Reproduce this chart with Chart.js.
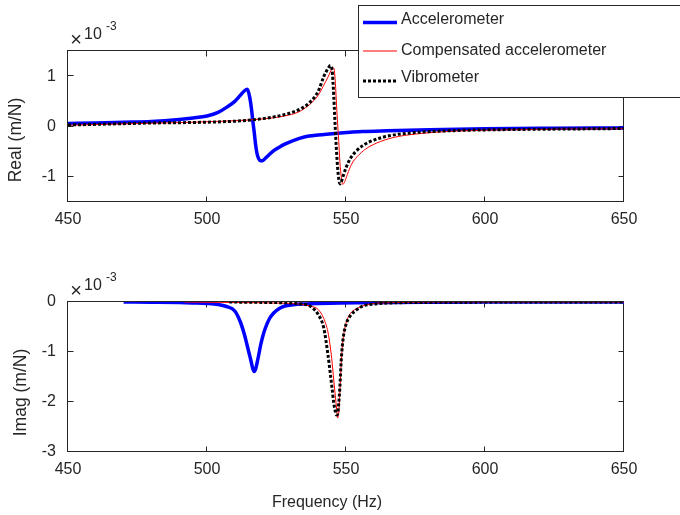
<!DOCTYPE html>
<html>
<head>
<meta charset="utf-8">
<script src="https://cdn.jsdelivr.net/npm/chart.js@4/dist/chart.umd.min.js"></script>
<style>
  html, body { margin: 0; padding: 0; background: #fff; }
  #wrap { position: relative; width: 680px; height: 515px; overflow: hidden; }
  .painel { position: absolute; left: 0; width: 680px; }
</style>
</head>
<body>
<div id="wrap">
  <div class="painel" style="top:0;height:250px"><canvas id="graficoReal" width="680" height="250"></canvas></div>
  <div class="painel" style="top:250px;height:265px"><canvas id="graficoImag" width="680" height="265"></canvas></div>
</div>
<script>
// valores em unidades de 1e-3 m/N (eixo mostra x10^-3)
const freqTicks = [450, 500, 550, 600, 650];
const realTicks = [-1, 0, 1];
const imagTicks = [-3, -2, -1, 0];

const accelFreq = [450, 460, 470, 480, 490, 495, 500, 504, 507, 510, 512, 513.5, 514.5, 515.3, 516, 516.5, 517, 517.5, 518, 518.6, 519.3, 520, 521, 522.5, 524, 526, 528, 531, 535, 540, 548, 556, 565, 580, 600, 625, 650];
const accelReal = [0.06, 0.07, 0.085, 0.10, 0.14, 0.17, 0.21, 0.28, 0.38, 0.50, 0.62, 0.71, 0.74, 0.60, 0.35, 0.10, -0.12, -0.37, -0.54, -0.64, -0.68, -0.68, -0.63, -0.55, -0.48, -0.41, -0.35, -0.28, -0.21, -0.17, -0.13, -0.10, -0.085, -0.065, -0.045, -0.035, -0.03];
const accelImag = [null, null, 0, -0.005, -0.012, -0.02, -0.03, -0.05, -0.09, -0.18, -0.40, -0.66, -0.88, -1.06, -1.22, -1.34, -1.39, -1.34, -1.22, -1.06, -0.86, -0.70, -0.52, -0.33, -0.22, -0.13, -0.08, -0.055, -0.04, -0.03, -0.02, -0.015, -0.01, -0.005, 0, 0, 0];

const compFreq = [450, 465, 480, 492, 500, 510, 520, 528, 533, 537, 540, 542, 543.5, 544.5, 545.2, 545.7, 546.2, 546.6, 547, 547.4, 547.8, 548.3, 548.8, 549.5, 550.5, 552, 554, 557, 561, 567, 575, 590, 610, 630, 650];
const compReal = [0.025, 0.045, 0.065, 0.08, 0.095, 0.115, 0.15, 0.21, 0.29, 0.44, 0.62, 0.82, 0.98, 1.10, 1.17, 1.15, 0.85, 0.42, 0.05, -0.30, -0.70, -1.00, -1.15, -1.10, -0.95, -0.75, -0.60, -0.45, -0.33, -0.22, -0.15, -0.09, -0.065, -0.05, -0.045];
const compImag = [null, null, null, 0, -0.005, -0.01, -0.015, -0.025, -0.04, -0.08, -0.15, -0.33, -0.60, -0.96, -1.32, -1.62, -1.90, -2.12, -2.32, -2.20, -1.80, -1.20, -0.82, -0.55, -0.34, -0.20, -0.13, -0.06, -0.025, -0.012, -0.005, 0, 0, 0, 0];

const vibFreq = [450, 465, 480, 495, 508, 515, 525, 530, 534, 537, 540, 542, 543.5, 544.4, 545, 545.6, 546.2, 546.6, 547, 547.4, 547.8, 548.3, 549, 550, 551.5, 553.5, 556, 560, 566, 575, 590, 610, 630, 650];
const vibReal = [0.03, 0.05, 0.07, 0.08, 0.10, 0.125, 0.20, 0.27, 0.36, 0.48, 0.70, 0.99, 1.15, 1.21, 1.12, 0.60, -0.10, -0.50, -0.83, -1.05, -1.14, -1.10, -0.98, -0.82, -0.64, -0.50, -0.38, -0.27, -0.18, -0.12, -0.08, -0.06, -0.05, -0.04];
const vibImag = [null, null, null, null, 0, -0.005, -0.012, -0.02, -0.04, -0.08, -0.25, -0.52, -1.05, -1.45, -1.73, -2.02, -2.20, -2.26, -2.24, -2.02, -1.70, -1.15, -0.72, -0.45, -0.28, -0.17, -0.08, -0.04, -0.02, -0.01, -0.005, 0, 0, 0];

const nomes = ["Accelerometer", "Compensated accelerometer", "Vibrometer"];

const COR_EIXO = "#262626";
const FONTE = "'Liberation Sans', Arial, Helvetica, sans-serif";
Chart.defaults.font.family = FONTE;
Chart.defaults.color = COR_EIXO;

function pares(freq, vals) {
  return freq.map((f, i) => ({ x: f, y: vals[i] }));
}

function series(accel, comp, vib) {
  return [
    { label: nomes[0], data: pares(accelFreq, accel), borderColor: "#0000ff", borderWidth: 3.5, order: 3 },
    { label: nomes[1], data: pares(compFreq, comp), borderColor: "#ff0000", borderWidth: 1, order: 2 },
    { label: nomes[2], data: pares(vibFreq, vib), borderColor: "#000000", borderWidth: 3, borderDash: [3, 2], order: 1 }
  ];
}

// caixa estilo matlab com ticks para dentro nos quatro lados
const moldura = {
  id: "moldura",
  beforeDatasetsDraw(chart) {
    const { ctx, chartArea: a, scales } = chart;
    const tl = 5.5;
    ctx.save();
    ctx.strokeStyle = COR_EIXO;
    ctx.lineWidth = 1;
    ctx.strokeRect(a.left - 0.5, a.top - 0.5, a.right - a.left, a.bottom - a.top);
    ctx.beginPath();
    scales.x.ticks.forEach(t => {
      const px = Math.round(scales.x.getPixelForValue(t.value)) - 0.5;
      ctx.moveTo(px, a.bottom); ctx.lineTo(px, a.bottom - tl);
      ctx.moveTo(px, a.top); ctx.lineTo(px, a.top + tl);
    });
    scales.y.ticks.forEach(t => {
      const py = Math.round(scales.y.getPixelForValue(t.value)) - 0.5;
      ctx.moveTo(a.left, py); ctx.lineTo(a.left + tl, py);
      ctx.moveTo(a.right, py); ctx.lineTo(a.right - tl, py);
    });
    ctx.stroke();
    ctx.restore();
  },
  afterDraw(chart, args, opts) {
    const { ctx, chartArea: a } = chart;
    ctx.save();
    ctx.fillStyle = COR_EIXO;
    // titulo do eixo y
    ctx.font = `17.5px ${FONTE}`;
    ctx.translate(opts.yPos[0], opts.yPos[1]);
    ctx.rotate(-Math.PI / 2);
    ctx.textAlign = "center";
    ctx.textBaseline = "middle";
    ctx.fillText(opts.yTitulo, 0, 0);
    ctx.setTransform(1, 0, 0, 1, 0, 0);
    // multiplicador x10^-3
    ctx.textAlign = "center";
    ctx.textBaseline = "alphabetic";
    ctx.font = `20px ${FONTE}`;
    ctx.fillText("\u00d7", 76, a.top - 5);
    ctx.textAlign = "left";
    ctx.font = `16px ${FONTE}`;
    ctx.fillText("10", 84, a.top - 12.5);
    ctx.font = `12px ${FONTE}`;
    ctx.fillText("-3", 106, a.top - 21.5);
    if (opts.xTitulo) {
      ctx.font = `16px ${FONTE}`;
      ctx.textAlign = "center";
      ctx.fillText(opts.xTitulo, opts.xPos[0], opts.xPos[1]);
    }
    ctx.restore();
  }
};

// legenda desenhada por cima do grafico de cima
const legendaCaixa = {
  id: "legendaCaixa",
  afterDraw(chart, args, opts) {
    if (!opts.mostrar) return;
    const ctx = chart.ctx;
    const linhasY = [22.5, 51, 81];
    const textosY = [23.5, 55, 82];
    ctx.save();
    ctx.fillStyle = "#fff";
    ctx.fillRect(358.5, 5.5, 340, 92);
    ctx.strokeStyle = COR_EIXO;
    ctx.lineWidth = 1;
    ctx.strokeRect(358.5, 5.5, 340, 92);
    chart.data.datasets.forEach((ds, i) => {
      ctx.beginPath();
      ctx.strokeStyle = ds.borderColor;
      ctx.lineWidth = ds.borderWidth;
      ctx.setLineDash(ds.borderDash || []);
      ctx.moveTo(363, linhasY[i]);
      ctx.lineTo(397, linhasY[i]);
      ctx.stroke();
      ctx.setLineDash([]);
      ctx.fillStyle = COR_EIXO;
      ctx.font = `16px ${FONTE}`;
      ctx.textBaseline = "alphabetic";
      ctx.fillText(ds.label, 401, textosY[i]);
    });
    ctx.restore();
  }
};

function opcoes(yMin, yMax, yTicks, padTopo, alturaX, rotulos, mostrarLegenda) {
  return {
    responsive: false,
    animation: false,
    layout: { padding: { top: padTopo, right: 56, left: 0, bottom: 0 } },
    elements: { point: { radius: 0 }, line: { cubicInterpolationMode: "monotone", fill: false } },
    plugins: {
      legend: { display: false },
      tooltip: { enabled: false },
      moldura: rotulos,
      legendaCaixa: { mostrar: mostrarLegenda }
    },
    scales: {
      x: {
        type: "linear", min: 450, max: 650,
        grid: { display: false, drawTicks: false },
        border: { display: false },
        afterBuildTicks: s => { s.ticks = freqTicks.map(v => ({ value: v })); },
        afterFit: s => { s.height = alturaX; },
        ticks: { padding: 8, color: COR_EIXO, font: { size: 16 } }
      },
      y: {
        type: "linear", min: yMin, max: yMax,
        grid: { display: false, drawTicks: false },
        border: { display: false },
        afterBuildTicks: s => { s.ticks = yTicks.map(v => ({ value: v })); },
        afterFit: s => { s.width = 68; },
        ticks: { padding: 12, color: COR_EIXO, font: { size: 16 } }
      }
    }
  };
}

new Chart(document.getElementById("graficoReal").getContext("2d"), {
  type: "line",
  data: { datasets: series(accelReal, compReal, vibReal) },
  options: opcoes(-1.5, 1.5, realTicks, 51, 48, { yTitulo: "Real (m/N)", yPos: [16, 140] }, true),
  plugins: [moldura, legendaCaixa]
});

new Chart(document.getElementById("graficoImag").getContext("2d"), {
  type: "line",
  data: { datasets: series(accelImag, compImag, vibImag) },
  options: opcoes(-3, 0, imagTicks, 52, 63, { yTitulo: "Imag (m/N)", yPos: [21, 142.5], xTitulo: "Frequency (Hz)", xPos: [327, 257] }, false),
  plugins: [moldura, legendaCaixa]
});
</script>
</body>
</html>
